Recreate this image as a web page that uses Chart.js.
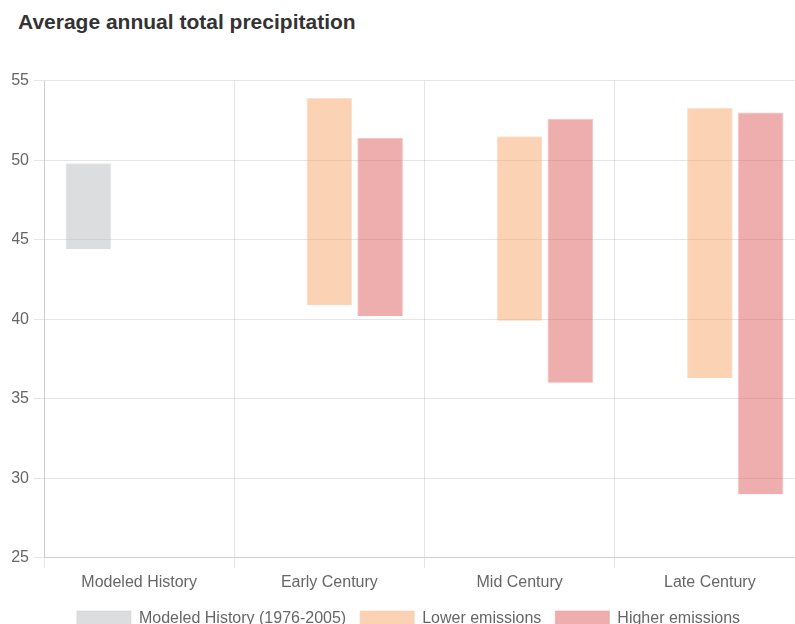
<!DOCTYPE html>
<html>
<head>
<meta charset="utf-8">
<script src="https://cdn.jsdelivr.net/npm/chart.js@4/dist/chart.umd.min.js"></script>
<style>
html,body{margin:0;padding:0;background:#fff;overflow:hidden;width:795px;height:624px;}
#title{position:absolute;left:18px;top:11px;font:bold 21px/21px 'Liberation Sans',Arial,sans-serif;color:#333;white-space:nowrap;}
#wrap{position:absolute;left:0;top:66px;width:805px;height:571px;}
</style>
</head>
<body>
<div id="title">Average annual total precipitation</div>
<div id="wrap"><canvas id="c"></canvas></div>
<script>
const categories = ["Modeled History", "Early Century", "Mid Century", "Late Century"];
const historyRange = [[44.4, 49.8], null, null, null];
const lowerRange = [null, [40.9, 53.9], [39.9, 51.5], [36.3, 53.3]];
const higherRange = [null, [40.2, 51.4], [36.0, 52.6], [29.0, 53.0]];
const seriesNames = ["Modeled History (1976-2005)", "Lower emissions", "Higher emissions"];
const yTicks = {min: 25, max: 55, step: 5};

Chart.defaults.font.family = "'Liberation Sans', Arial, sans-serif";
new Chart(document.getElementById('c'), {
  type: 'bar',
  data: {
    labels: categories,
    datasets: [
      {label: seriesNames[0], data: historyRange, backgroundColor: 'rgba(185,188,192,0.5)', borderColor: 'rgba(205,207,210,0.5)', borderWidth: 1},
      {label: seriesNames[1], data: lowerRange, backgroundColor: 'rgba(247,168,105,0.5)', borderColor: 'rgba(250,200,160,0.5)', borderWidth: 1},
      {label: seriesNames[2], data: higherRange, backgroundColor: 'rgba(221,94,94,0.5)', borderColor: 'rgba(235,150,150,0.5)', borderWidth: 1}
    ]
  },
  options: {
    responsive: true,
    maintainAspectRatio: false,
    animation: false,
    layout: {padding: {left: 12, right: 0, top: 10, bottom: 0}},
    plugins: {
      title: {display: false},
      legend: {position: 'bottom', labels: {boxWidth: 54, boxHeight: 16, color: '#666', font: {size: 16}, padding: 14}},
      tooltip: {enabled: false}
    },
    scales: {
      x: {grid: {color: 'rgba(0,0,0,0.1)', tickLength: 10}, ticks: {color: '#666', font: {size: 16}, padding: 5}},
      y: {min: yTicks.min, max: yTicks.max, afterFit: (s) => { s.width = 32; },
          ticks: {stepSize: yTicks.step, color: '#666', font: {size: 16}, padding: 5}, grid: {color: 'rgba(0,0,0,0.1)', tickLength: 10}}
    }
  }
});
</script>
</body>
</html>
